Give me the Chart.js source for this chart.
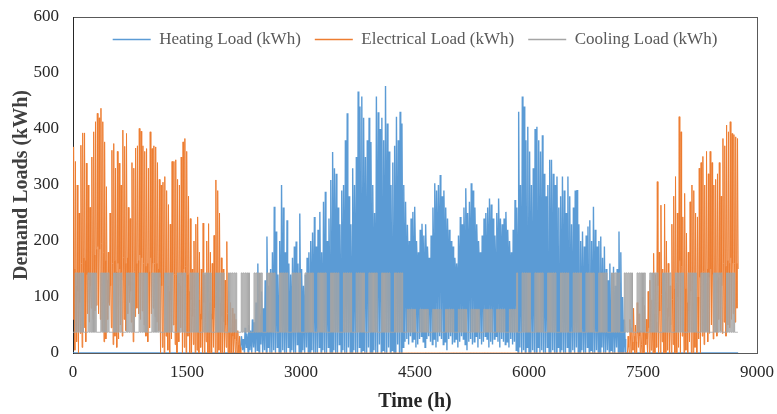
<!DOCTYPE html>
<html lang="en">
<head>
<meta charset="UTF-8">
<title>Demand Loads</title>
<script src="https://cdn.jsdelivr.net/npm/chart.js"></script>
<style>
  html, body { margin: 0; padding: 0; background: #fff; }
  #wrap { width: 777px; height: 414px; }
</style>
</head>
<body>
<div id="wrap"><canvas id="loadChart" width="777" height="414"></canvas></div>
<script>
// series names as in the legend
const seriesNames = ['Heating Load (kWh)', 'Electrical Load (kWh)', 'Cooling Load (kWh)'];
const timeTicks = [0, 1500, 3000, 4500, 6000, 7500, 9000];
const loadTicks = [0, 100, 200, 300, 400, 500, 600];

// daily values, one row per week (Sun..Sat)
// low = night trough, peak = daily maximum, mid = typical level later in the day
const heatingPeak = [
  0,0,0,0,0,0,0, 0,0,0,0,0,0,0, 0,0,0,0,0,0,0, 0,0,0,0,0,0,0,
  0,0,0,0,0,0,0, 0,0,0,0,0,0,0, 0,0,0,0,0,0,0, 0,0,0,0,0,0,0,
  0,0,0,0,0,0,0, 0,0,0,0,0,0,0, 0,0,0,0,0,0,0, 0,0,0,0,0,0,0,
  0,0,0,0,0,0,0,
  0,30,25,45,35,50,40,
  60,55,90,160,70,110,80,
  130,208,120,150,180,261,217,
  140,200,300,260,180,237,160,
  140,170,190,199,160,249,150,
  120,140,170,180,200,215,243,
  190,220,252,180,270,288,200,
  240,309,359,330,320,260,230,
  290,300,380,428,280,230,330,
  300,350,467,440,458,420,350,
  380,420,377,300,250,458,430,
  400,420,380,477,410,360,300,
  340,370,422,380,431,410,300,
  270,229,200,240,252,261,200,
  180,220,231,210,230,190,170,
  210,260,303,290,300,318,280,
  290,260,240,220,200,190,170,
  160,210,243,230,260,294,250,
  270,303,290,260,230,200,180,
  210,240,250,260,276,265,240,
  210,250,276,240,230,240,252,
  220,200,180,220,273,260,431,
  300,458,440,380,404,360,300,
  330,400,404,380,360,389,320,
  280,300,345,345,320,300,315,
  260,280,315,290,250,315,280,
  230,260,290,291,230,200,217,
  190,210,226,237,200,261,220,
  190,200,208,170,190,150,130,
  160,140,154,120,150,217,180,
  100,60,0,0,0,0,0,
  0,0,0,0,0,0,0, 0,0,0,0,0,0,0, 0,0,0,0,0,0,0, 0,0,0,0,0,0,0,
  0,0,0,0,0,0,0, 0,0,0,0,0,0,0, 0,0,0,0,0,0,0, 0,0,0,0,0,0,0,
  0
];
const heatingMid = [
  0,0,0,0,0,0,0, 0,0,0,0,0,0,0, 0,0,0,0,0,0,0, 0,0,0,0,0,0,0,
  0,0,0,0,0,0,0, 0,0,0,0,0,0,0, 0,0,0,0,0,0,0, 0,0,0,0,0,0,0,
  0,0,0,0,0,0,0, 0,0,0,0,0,0,0, 0,0,0,0,0,0,0, 0,0,0,0,0,0,0,
  0,0,0,0,0,0,0,
  0,20,15,30,25,35,30,
  40,35,60,70,50,65,55,
  70,90,75,85,95,110,100,
  80,100,120,110,90,105,85,
  80,95,100,105,90,115,85,
  75,85,95,100,110,115,120,
  105,115,125,100,130,140,110,
  145,170,185,175,170,150,140,
  160,165,190,205,160,145,175,
  170,185,220,210,215,200,180,
  190,205,190,165,150,215,205,
  195,205,190,220,200,185,165,
  175,185,205,190,205,200,165,
  160,170,160,175,185,190,160,
  150,170,180,165,175,160,145,
  165,190,220,210,220,230,200,
  210,190,180,170,165,160,145,
  140,165,190,180,200,220,190,
  205,220,210,195,180,165,150,
  165,185,190,200,205,200,185,
  165,190,205,185,180,185,195,
  170,160,150,170,200,190,220,
  140,175,170,155,160,150,130,
  140,160,160,150,145,155,135,
  120,125,140,140,130,125,130,
  110,115,130,120,105,125,115,
  95,105,115,115,95,85,90,
  80,85,90,95,80,100,85,
  75,80,80,70,75,60,55,
  60,55,60,50,55,80,65,
  40,25,0,0,0,0,0,
  0,0,0,0,0,0,0, 0,0,0,0,0,0,0, 0,0,0,0,0,0,0, 0,0,0,0,0,0,0,
  0,0,0,0,0,0,0, 0,0,0,0,0,0,0, 0,0,0,0,0,0,0, 0,0,0,0,0,0,0,
  0
];
const heatingLow = [
  0,0,0,0,0,0,0, 0,0,0,0,0,0,0, 0,0,0,0,0,0,0, 0,0,0,0,0,0,0,
  0,0,0,0,0,0,0, 0,0,0,0,0,0,0, 0,0,0,0,0,0,0, 0,0,0,0,0,0,0,
  0,0,0,0,0,0,0, 0,0,0,0,0,0,0, 0,0,0,0,0,0,0, 0,0,0,0,0,0,0,
  0,0,0,0,0,0,0,
  0,0,5,0,10,0,5,
  0,10,0,5,0,15,0,
  5,0,10,0,0,5,0,
  10,0,0,5,0,0,10,
  0,5,0,0,15,0,0,
  5,0,10,0,0,5,0,
  0,0,10,0,5,0,0,
  10,0,0,5,0,0,15,
  0,5,0,0,10,0,0,
  5,0,0,10,0,5,0,
  0,10,0,0,5,0,0,
  15,0,5,0,0,10,0,
  5,0,0,15,0,0,10,
  20,25,15,30,20,25,10,
  15,25,30,20,10,25,30,
  20,15,25,10,20,30,25,
  15,20,5,25,30,15,20,
  25,10,20,30,25,15,5,
  20,25,15,20,30,10,25,
  15,20,30,25,10,20,15,
  25,30,20,10,25,20,15,
  20,10,25,15,20,5,0,
  10,0,5,0,10,0,0,
  5,0,0,10,0,5,0,
  0,10,0,0,5,0,0,
  10,0,5,0,0,10,0,
  0,5,0,10,0,0,5,
  0,0,10,0,5,0,0,
  5,0,0,10,0,0,5,
  0,5,0,0,10,0,0,
  0,0,0,0,0,0,0,
  0,0,0,0,0,0,0, 0,0,0,0,0,0,0, 0,0,0,0,0,0,0, 0,0,0,0,0,0,0,
  0,0,0,0,0,0,0, 0,0,0,0,0,0,0, 0,0,0,0,0,0,0, 0,0,0,0,0,0,0,
  0
];

const electricPeak = [
  368,342,300,250,371,393,393,
  339,300,260,350,395,413,428,
  420,437,413,377,297,180,250,
  362,374,330,360,339,300,398,
  369,392,260,240,340,330,366,
  370,401,396,370,360,365,330,
  395,365,370,368,340,310,300,
  305,315,290,265,230,342,342,
  345,310,300,350,377,383,360,
  280,240,150,200,230,243,180,
  150,232,140,200,231,180,160,
  210,309,290,250,170,150,130,
  199,110,90,80,70,60,40,
  30,0,0,0,0,0,0,
  0,0,0,0,0,0,0, 0,0,0,0,0,0,0, 0,0,0,0,0,0,0, 0,0,0,0,0,0,0,
  0,0,0,0,0,0,0, 0,0,0,0,0,0,0, 0,0,0,0,0,0,0, 0,0,0,0,0,0,0,
  0,0,0,0,0,0,0, 0,0,0,0,0,0,0, 0,0,0,0,0,0,0, 0,0,0,0,0,0,0,
  0,0,0,0,0,0,0, 0,0,0,0,0,0,0, 0,0,0,0,0,0,0, 0,0,0,0,0,0,0,
  0,0,0,0,0,0,0, 0,0,0,0,0,0,0, 0,0,0,0,0,0,0, 0,0,0,0,0,0,0,
  0,0,0,0,0,0,0, 0,0,0,0,0,0,0, 0,0,0,0,0,0,0, 0,0,0,0,0,0,0,
  0,0,0,0,0,0,0, 0,0,0,0,0,0,0, 0,0,0,0,0,0,0, 0,0,0,0,0,0,0,
  0,0,0,0,0,0,0,
  0,0,0,30,60,45,80,
  50,90,70,40,100,85,60,
  110,130,95,178,140,306,180,
  264,150,266,200,160,120,230,
  280,315,250,422,395,243,285,
  214,180,270,300,290,250,243,
  330,340,351,300,360,320,360,
  340,300,310,320,340,280,383,
  370,407,395,413,392,390,386,
  383
];
const electricMid = [
  150,120,110,90,160,170,165,
  140,130,120,150,175,185,190,
  185,195,180,165,130,90,120,
  160,165,145,160,150,130,170,
  160,170,120,110,150,145,160,
  165,175,170,160,155,160,145,
  170,160,160,160,150,135,120,
  125,130,120,110,95,140,140,
  140,125,120,140,150,155,140,
  110,95,65,80,90,95,70,
  60,90,55,75,90,70,60,
  80,110,100,90,65,55,50,
  70,45,35,30,25,20,15,
  10,0,0,0,0,0,0,
  0,0,0,0,0,0,0, 0,0,0,0,0,0,0, 0,0,0,0,0,0,0, 0,0,0,0,0,0,0,
  0,0,0,0,0,0,0, 0,0,0,0,0,0,0, 0,0,0,0,0,0,0, 0,0,0,0,0,0,0,
  0,0,0,0,0,0,0, 0,0,0,0,0,0,0, 0,0,0,0,0,0,0, 0,0,0,0,0,0,0,
  0,0,0,0,0,0,0, 0,0,0,0,0,0,0, 0,0,0,0,0,0,0, 0,0,0,0,0,0,0,
  0,0,0,0,0,0,0, 0,0,0,0,0,0,0, 0,0,0,0,0,0,0, 0,0,0,0,0,0,0,
  0,0,0,0,0,0,0, 0,0,0,0,0,0,0, 0,0,0,0,0,0,0, 0,0,0,0,0,0,0,
  0,0,0,0,0,0,0, 0,0,0,0,0,0,0, 0,0,0,0,0,0,0, 0,0,0,0,0,0,0,
  0,0,0,0,0,0,0,
  0,0,0,10,25,20,30,
  20,35,30,15,40,35,25,
  45,55,40,70,55,120,75,
  105,60,110,80,65,50,95,
  115,125,100,165,155,100,115,
  90,75,110,120,115,100,100,
  135,140,145,125,150,135,150,
  140,125,130,135,140,120,160,
  155,165,160,170,160,160,160,
  150
];
const electricLow = [
  60,5,20,0,35,10,45,
  20,70,55,80,60,75,85,
  70,60,40,20,25,60,85,
  45,15,30,10,25,50,30,
  60,40,70,90,55,20,65,
  80,70,60,75,50,30,20,
  45,70,80,65,55,40,0,
  10,0,30,5,0,25,50,
  15,0,20,45,0,10,0,
  30,0,0,15,0,5,0,
  10,0,0,20,0,0,0,
  10,0,0,5,0,0,0,
  10,0,0,0,0,0,0,
  0,0,0,0,0,0,0,
  0,0,0,0,0,0,0, 0,0,0,0,0,0,0, 0,0,0,0,0,0,0, 0,0,0,0,0,0,0,
  0,0,0,0,0,0,0, 0,0,0,0,0,0,0, 0,0,0,0,0,0,0, 0,0,0,0,0,0,0,
  0,0,0,0,0,0,0, 0,0,0,0,0,0,0, 0,0,0,0,0,0,0, 0,0,0,0,0,0,0,
  0,0,0,0,0,0,0, 0,0,0,0,0,0,0, 0,0,0,0,0,0,0, 0,0,0,0,0,0,0,
  0,0,0,0,0,0,0, 0,0,0,0,0,0,0, 0,0,0,0,0,0,0, 0,0,0,0,0,0,0,
  0,0,0,0,0,0,0, 0,0,0,0,0,0,0, 0,0,0,0,0,0,0, 0,0,0,0,0,0,0,
  0,0,0,0,0,0,0, 0,0,0,0,0,0,0, 0,0,0,0,0,0,0, 0,0,0,0,0,0,0,
  0,0,0,0,0,0,0,
  0,0,0,0,0,0,5,
  0,0,10,0,0,0,15,
  0,0,5,0,0,10,0,
  0,20,0,0,5,0,0,
  15,0,0,10,0,30,0,
  5,0,20,0,0,10,0,
  25,0,30,15,40,20,35,
  50,25,45,30,60,40,35,
  55,30,50,45,60,70,55,
  80
];

// cooling: weekdays on, weekends at base level
const coolingPeak = [
  37,143,143,143,143,143,37, 37,143,143,143,143,143,37, 37,143,143,143,143,143,37,
  37,143,143,143,143,143,37, 37,143,143,143,143,143,37, 37,143,143,143,143,143,37,
  37,143,143,143,143,143,37, 37,143,143,143,143,143,37, 37,143,143,143,143,143,37,
  37,143,143,143,143,143,37, 37,143,143,143,143,143,37, 37,143,143,143,143,143,37,
  37,143,143,143,143,143,37, 37,143,143,143,143,143,37, 37,143,143,143,143,143,37,
  37,143,143,143,143,143,37, 37,143,143,143,143,143,37, 37,143,143,143,143,143,37,
  37,143,143,143,143,143,37, 37,143,143,143,143,143,37, 37,143,143,143,143,143,37,
  37,143,143,143,143,143,37, 37,143,143,143,143,143,37, 37,143,143,143,143,143,37,
  37,143,143,143,143,143,37, 37,143,143,143,143,143,37,
  37,78,78,78,78,78,37, 37,78,78,78,78,78,37, 37,78,78,78,78,78,37,
  37,78,78,78,78,78,37, 37,78,78,78,78,78,37, 37,78,78,78,78,78,37,
  37,78,78,78,78,78,37, 37,78,78,78,78,78,37, 37,78,78,78,78,143,37,
  37,143,143,143,143,143,37, 37,143,143,143,143,143,37, 37,143,143,143,143,143,37,
  37,143,143,143,143,143,37, 37,143,143,143,143,143,37, 37,143,143,143,143,143,37,
  37,143,143,143,143,143,37, 37,143,143,143,143,143,37, 37,143,143,143,143,143,37,
  37,143,143,143,143,143,37, 37,143,143,143,143,143,37, 37,143,143,143,143,143,37,
  37,143,143,143,143,143,37, 37,143,143,143,143,143,37, 37,143,143,143,143,143,37,
  37,143,143,143,143,143,37, 37,143,143,143,143,143,37,
  37
];
const coolingLow = 37;

const HOURS_PER_DAY = 24;

// points per day: trough at 0 h, peak, then (optional) evening level
function dailyPoints(peaks, lows, mids) {
  const pts = [];
  const step = mids ? 8 : 12;
  peaks.forEach((p, d) => {
    const t = d * HOURS_PER_DAY;
    pts.push({ x: t, y: Array.isArray(lows) ? lows[d] : lows });
    pts.push({ x: t + step, y: p });
    if (mids) pts.push({ x: t + 2 * step, y: mids[d] });
  });
  return pts;
}

const serif = "'Liberation Serif', 'Times New Roman', serif";
const colors = { heating: '#5B9BD5', electric: '#ED7D31', cooling: '#A5A5A5' };

const plotFrame = {
  id: 'plotFrame',
  afterInit(chart) {
    // legend sits inside the plot area, so it must not take layout space
    const legend = chart.legend;
    const fit = legend.fit;
    legend.fit = function () {
      fit.call(this);
      this.realHeight = this.height;
      this.height = 0;
    };
  },
  afterLayout(chart) {
    const legend = chart.legend;
    legend.height = legend.realHeight;
    legend.bottom = legend.top + legend.height;
  },
  beforeDatasetsDraw(chart) {
    const { ctx, chartArea: a } = chart;
    ctx.save();
    ctx.strokeStyle = '#595959';
    ctx.lineWidth = 1;
    ctx.strokeRect(a.left + 0.5, a.top + 0.5, a.right - a.left, a.bottom - a.top);
    ctx.strokeStyle = '#262626';
    ctx.beginPath();
    ctx.moveTo(a.left + 0.5, a.top);
    ctx.lineTo(a.left + 0.5, a.bottom + 1);
    ctx.stroke();
    ctx.restore();
  }
};

function lineSet(label, data, color, width, order, extra) {
  return Object.assign({
    label, data, order,
    borderColor: color,
    backgroundColor: color,
    borderWidth: width,
    pointBorderColor: color,
    pointBackgroundColor: color,
    pointBorderWidth: 1.5
  }, extra || {});
}

new Chart(document.getElementById('loadChart'), {
  type: 'line',
  data: {
    datasets: [
      lineSet(seriesNames[0], dailyPoints(heatingPeak, heatingLow, heatingMid), colors.heating, 1.4, 2),
      lineSet(seriesNames[1], dailyPoints(electricPeak, electricLow, electricMid), colors.electric, 1, 1),
      lineSet(seriesNames[2], dailyPoints(coolingPeak, coolingLow), colors.cooling, 1, 0, { stepped: 'middle' })
    ]
  },
  options: {
    responsive: false,
    animation: false,
    devicePixelRatio: 1,
    parsing: false,
    normalized: true,
    layout: { padding: { top: 17, right: 20, bottom: 0, left: 0 } },
    elements: {
      point: { radius: 0, hoverRadius: 0 },
      line: { tension: 0, fill: false }
    },
    plugins: {
      tooltip: { enabled: false },
      legend: {
        position: 'top',
        fullSize: false,
        labels: {
          usePointStyle: true,
          pointStyle: 'line',
          pointStyleWidth: 38,
          padding: 14,
          color: '#595959',
          font: { family: serif, size: 17 },
          sort: (a, b) => a.datasetIndex - b.datasetIndex
        }
      }
    },
    scales: {
      x: {
        type: 'linear',
        min: 0,
        max: 9000,
        afterBuildTicks: s => { s.ticks = timeTicks.map(v => ({ value: v })); },
        afterFit: s => { s.height = 61; s.paddingLeft = 0; s.paddingRight = 0; },
        grid: { display: false, drawTicks: false },
        border: { display: false },
        ticks: {
          autoSkip: false,
          maxRotation: 0,
          padding: 9,
          color: '#262626',
          font: { family: serif, size: 17 },
          callback: v => String(v)
        },
        title: {
          display: true,
          text: 'Time (h)',
          color: '#262626',
          padding: { top: 0, bottom: 0 },
          font: { family: serif, size: 20, weight: 'bold' }
        }
      },
      y: {
        min: 0,
        max: 600,
        afterBuildTicks: s => { s.ticks = loadTicks.map(v => ({ value: v })); },
        afterFit: s => { s.width = 73; s.paddingTop = 0; s.paddingBottom = 0; },
        grid: { display: false, drawTicks: false },
        border: { display: false },
        ticks: {
          padding: 14,
          color: '#262626',
          font: { family: serif, size: 17 },
          callback: v => String(v)
        },
        title: {
          display: true,
          text: 'Demand Loads (kWh)',
          color: '#404040',
          padding: { top: 10, bottom: 0 },
          font: { family: serif, size: 20, weight: 'bold' }
        }
      }
    }
  },
  plugins: [plotFrame]
});
</script>
</body>
</html>
